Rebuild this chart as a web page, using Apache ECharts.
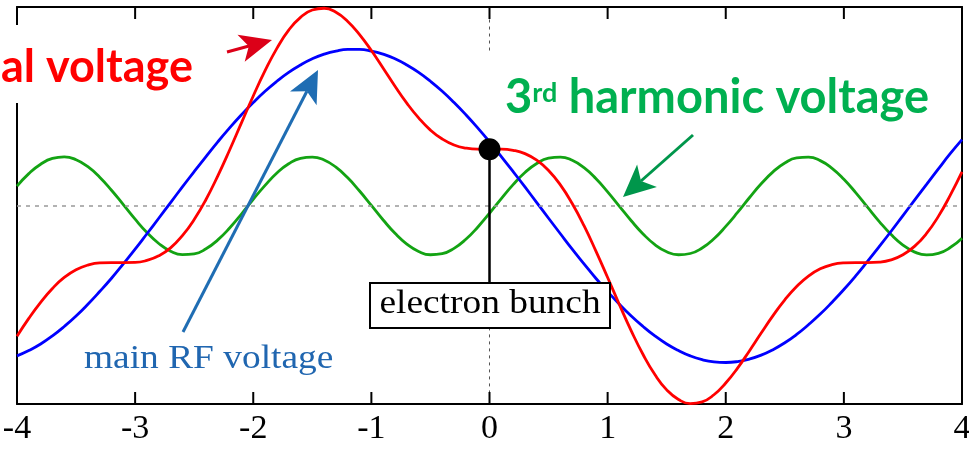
<!DOCTYPE html>
<html>
<head>
<meta charset="utf-8">
<title>RF voltage with 3rd harmonic</title>
<script src="https://cdn.jsdelivr.net/npm/echarts@6/dist/echarts.min.js"></script>
<style>
  html, body { margin: 0; padding: 0; background: #fff; }
  #chart { width: 969px; height: 451px; }
</style>
</head>
<body>
<div id="chart"></div>
<script>
// phase samples (x axis)
var phase = [-4.0, -3.9, -3.8, -3.7, -3.6, -3.5, -3.4, -3.3, -3.2, -3.1, -3.0, -2.9, -2.8, -2.7, -2.6, -2.5, -2.4, -2.3, -2.2, -2.1,
  -2.0, -1.9, -1.8, -1.7, -1.6, -1.5, -1.4, -1.3, -1.2, -1.1, -1.0, -0.9, -0.8, -0.7, -0.6, -0.5, -0.4, -0.3, -0.2, -0.1,
  0.0, 0.1, 0.2, 0.3, 0.4, 0.5, 0.6, 0.7, 0.8, 0.9, 1.0, 1.1, 1.2, 1.3, 1.4, 1.5, 1.6, 1.7, 1.8, 1.9,
  2.0, 2.1, 2.2, 2.3, 2.4, 2.5, 2.6, 2.7, 2.8, 2.9, 3.0, 3.1, 3.2, 3.3, 3.4, 3.5, 3.6, 3.7, 3.8, 3.9, 4.0];
// main RF voltage (blue)
var mainRF = [-0.958, -0.924, -0.882, -0.830, -0.770, -0.703, -0.628, -0.547, -0.462, -0.370, -0.276, -0.178, -0.079, 0.021, 0.121, 0.219, 0.315, 0.409, 0.498, 0.582,
  0.660, 0.732, 0.796, 0.853, 0.900, 0.939, 0.969, 0.989, 0.999, 0.999, 0.989, 0.969, 0.939, 0.900, 0.853, 0.796, 0.732, 0.660, 0.582, 0.498,
  0.409, 0.315, 0.219, 0.121, 0.021, -0.079, -0.178, -0.276, -0.370, -0.462, -0.547, -0.628, -0.703, -0.770, -0.830, -0.882, -0.924, -0.958, -0.982, -0.996,
  -1.000, -0.994, -0.978, -0.953, -0.918, -0.874, -0.821, -0.759, -0.691, -0.615, -0.534, -0.447, -0.354, -0.259, -0.162, -0.062, 0.038, 0.137, 0.236, 0.333, 0.423];
// 3rd harmonic voltage (green)
var harmonic3 = [0.126, 0.206, 0.266, 0.303, 0.313, 0.295, 0.250, 0.183, 0.100, 0.008, -0.085, -0.170, -0.240, -0.289, -0.311, -0.306, -0.274, -0.217, -0.141, -0.052,
  0.042, 0.131, 0.210, 0.269, 0.304, 0.312, 0.293, 0.247, 0.179, 0.095, 0.003, -0.090, -0.175, -0.244, -0.291, -0.312, -0.305, -0.271, -0.213, -0.136,
  -0.047, 0.047, 0.136, 0.213, 0.271, 0.305, 0.312, 0.291, 0.244, 0.175, 0.090, -0.003, -0.095, -0.179, -0.247, -0.293, -0.312, -0.304, -0.269, -0.210,
  -0.131, -0.042, 0.052, 0.141, 0.217, 0.274, 0.306, 0.311, 0.289, 0.240, 0.170, 0.085, -0.008, -0.100, -0.183, -0.250, -0.295, -0.313, -0.303, -0.266, -0.206];
// total voltage (red)
var totalV = [-0.832, -0.718, -0.616, -0.527, -0.457, -0.408, -0.378, -0.364, -0.362, -0.362, -0.361, -0.348, -0.319, -0.268, -0.190, -0.087, 0.041, 0.192, 0.357, 0.530,
  0.702, 0.863, 1.006, 1.122, 1.204, 1.251, 1.262, 1.236, 1.178, 1.094, 0.992, 0.879, 0.764, 0.656, 0.562, 0.484, 0.427, 0.389, 0.369, 0.362,
  0.362, 0.362, 0.355, 0.334, 0.292, 0.226, 0.134, 0.015, -0.126, -0.287, -0.457, -0.631, -0.798, -0.949, -1.077, -1.175, -1.236, -1.262, -1.251, -1.206,
  -1.131, -1.036, -0.926, -0.812, -0.701, -0.600, -0.515, -0.448, -0.402, -0.375, -0.364, -0.362, -0.362, -0.359, -0.345, -0.312, -0.257, -0.176, -0.067, 0.067, 0.217];
// electron bunch sits on the total voltage at phase 0
var bunchPoint = [[0, 0.362]];
// inner tick positions on top and bottom frame
var xTicks = [-3, -2, -1, 0, 1, 2, 3];

var yMin = -1.265, yMax = 1.27;
var gridBox = { left: 17, right: 7, top: 7, bottom: 47 };
var W = 969, H = 451;

function pairs(ys) {
  return phase.map(function (x, i) { return [x, ys[i]]; });
}

var chart = echarts.init(document.getElementById('chart'));

var dotted = { color: '#555', width: 1, type: [3, 4] };

var option = {
  animation: false,
  backgroundColor: '#fff',
  grid: { left: gridBox.left, right: gridBox.right, top: gridBox.top, bottom: gridBox.bottom, outerBoundsMode: 'none' },
  xAxis: [{
    type: 'value', min: -4, max: 4, interval: 1, position: 'bottom',
    axisLine: { show: true, onZero: false, lineStyle: { color: '#000', width: 2 } },
    axisTick: { show: false },
    axisLabel: { show: true, color: '#000', fontFamily: 'Liberation Serif', fontSize: 34, margin: 8, showMinLabel: true, showMaxLabel: true },
    splitLine: { show: false }
  }, {
    type: 'value', min: -4, max: 4, interval: 1, position: 'top',
    axisLine: { show: true, onZero: false, lineStyle: { color: '#000', width: 2 } },
    axisTick: { show: false },
    axisLabel: { show: false },
    splitLine: { show: false }
  }],
  yAxis: [{
    type: 'value', min: yMin, max: yMax, position: 'left',
    axisLine: { show: true, onZero: false, lineStyle: { color: '#000', width: 2 } },
    axisTick: { show: false }, axisLabel: { show: false }, splitLine: { show: false }
  }, {
    type: 'value', min: yMin, max: yMax, position: 'right',
    axisLine: { show: true, onZero: false, lineStyle: { color: '#000', width: 2 } },
    axisTick: { show: false }, axisLabel: { show: false }, splitLine: { show: false }
  }],
  series: [{
    name: '3rd harmonic voltage',
    type: 'line',
    data: pairs(harmonic3),
    smooth: true,
    symbol: 'none',
    lineStyle: { color: '#13a313', width: 2.8 },
    z: 3,
    markLine: {
      silent: true, symbol: ['none', 'none'], label: { show: false },
      lineStyle: { color: '#999', width: 1.5, type: [4, 5] },
      data: [
        [{ coord: [-4, 0] }, { coord: [4, 0] }]
      ]
    }
  }, {
    name: 'main RF voltage',
    type: 'line',
    data: pairs(mainRF),
    smooth: true,
    symbol: 'none',
    lineStyle: { color: '#0000ff', width: 2.8 },
    z: 4
  }, {
    name: 'total voltage',
    type: 'line',
    data: pairs(totalV),
    smooth: true,
    symbol: 'none',
    lineStyle: { color: '#ff0000', width: 2.8 },
    z: 5
  }, {
    name: 'electron bunch',
    type: 'scatter',
    data: bunchPoint,
    symbolSize: 22,
    itemStyle: { color: '#000', opacity: 1 },
    z: 8,
    markLine: {
      silent: true, symbol: ['none', 'none'], label: { show: false },
      data: [
        [{ coord: [0, 1.19], lineStyle: dotted }, { coord: [0, 0.98] }],
        [{ coord: [0, -0.776], lineStyle: dotted }, { coord: [0, -1.19] }],
        [{ coord: [0, 0.362], lineStyle: { color: '#000', width: 2.5, type: 'solid' } }, { coord: [0, -0.489] }]
      ]
    }
  }],
  graphic: [
    // white patch behind the clipped red label
    { type: 'rect', z: 100, shape: { x: 0, y: 25, width: 228, height: 78 }, style: { fill: '#fff' } },
    { type: 'text', z: 101, x: 193, y: 67,
      style: { text: 'al voltage', fill: '#ff0000', fontSize: 45, fontWeight: 'bold', fontFamily: 'Lato',
        align: 'right', textAlign: 'right', verticalAlign: 'middle', textVerticalAlign: 'middle' } },
    // red arrow
    { type: 'line', z: 101, shape: { x1: 227, y1: 52, x2: 249, y2: 46 }, style: { stroke: '#dc0018', lineWidth: 3 } },
    { type: 'polygon', z: 101, shape: { points: [[272, 40], [244.7, 61.8], [248.8, 46.2], [237.5, 34.8]] }, style: { fill: '#dc0018' } },

    // 3rd harmonic label + arrow
    { type: 'text', z: 101, x: 505, y: 98,
      style: {
        text: '{a|3}{b|rd}{a| harmonic voltage}',
        verticalAlign: 'middle', textVerticalAlign: 'middle',
        rich: {
          a: { fill: '#00b050', color: '#00b050', fontSize: 47, fontWeight: 'bold', fontFamily: 'Lato', lineHeight: 36, verticalAlign: 'middle' },
          b: { fill: '#00b050', color: '#00b050', fontSize: 27, fontWeight: 'bold', fontFamily: 'Lato', lineHeight: 27, verticalAlign: 'top' }
        }
      } },
    { type: 'line', z: 101, shape: { x1: 693, y1: 135, x2: 641, y2: 181 }, style: { stroke: '#00964b', lineWidth: 3 } },
    { type: 'polygon', z: 101, shape: { points: [[623, 197], [637.1, 164.6], [641, 181], [656.9, 187]] }, style: { fill: '#00964b' } },

    // main RF label + arrow
    { type: 'line', z: 101, shape: { x1: 183, y1: 332, x2: 306.9, y2: 91.3 }, style: { stroke: '#1f6db3', lineWidth: 3 } },
    { type: 'polygon', z: 101, shape: { points: [[318, 70], [290, 91.5], [306.9, 91.3], [316.6, 105.3]] }, style: { fill: '#1f6db3' } },
    { type: 'text', z: 101, x: 84, y: 359, scaleX: 1.1,
      style: { text: 'main RF voltage', fill: '#2066b0', fontSize: 34, fontFamily: 'Liberation Serif',
        align: 'left', textAlign: 'left', verticalAlign: 'middle', textVerticalAlign: 'middle' } },

    // electron bunch box
    { type: 'rect', z: 100, shape: { x: 370, y: 283, width: 240, height: 45 }, style: { fill: '#fff', stroke: '#000', lineWidth: 2 } },
    { type: 'text', z: 101, x: 490, y: 304, scaleX: 1.1,
      style: { text: 'electron bunch', fill: '#000', fontSize: 34, fontFamily: 'Liberation Serif',
        align: 'center', textAlign: 'center', verticalAlign: 'middle', textVerticalAlign: 'middle' } }
  ]
};

chart.setOption(option);

// inward frame ticks: place each through the grid's own mapping
function toPx(t, v) {
  var p = null;
  try { p = chart.convertToPixel({ gridIndex: 0 }, [t, v]); } catch (e) { p = null; }
  if (!p || !isFinite(p[0]) || !isFinite(p[1])) {
    var w = W - gridBox.left - gridBox.right, h = H - gridBox.top - gridBox.bottom;
    p = [gridBox.left + (t + 4) / 8 * w, gridBox.top + (yMax - v) / (yMax - yMin) * h];
  }
  return p;
}
xTicks.forEach(function (t) {
  var b = toPx(t, yMin), u = toPx(t, yMax);
  option.graphic.push({ type: 'line', z: 300, silent: true, shape: { x1: b[0], y1: b[1], x2: b[0], y2: b[1] - 12 }, style: { stroke: '#000', lineWidth: 2 } });
  option.graphic.push({ type: 'line', z: 300, silent: true, shape: { x1: u[0], y1: u[1], x2: u[0], y2: u[1] + 12 }, style: { stroke: '#000', lineWidth: 2 } });
});
chart.setOption(option, true);
</script>
</body>
</html>
